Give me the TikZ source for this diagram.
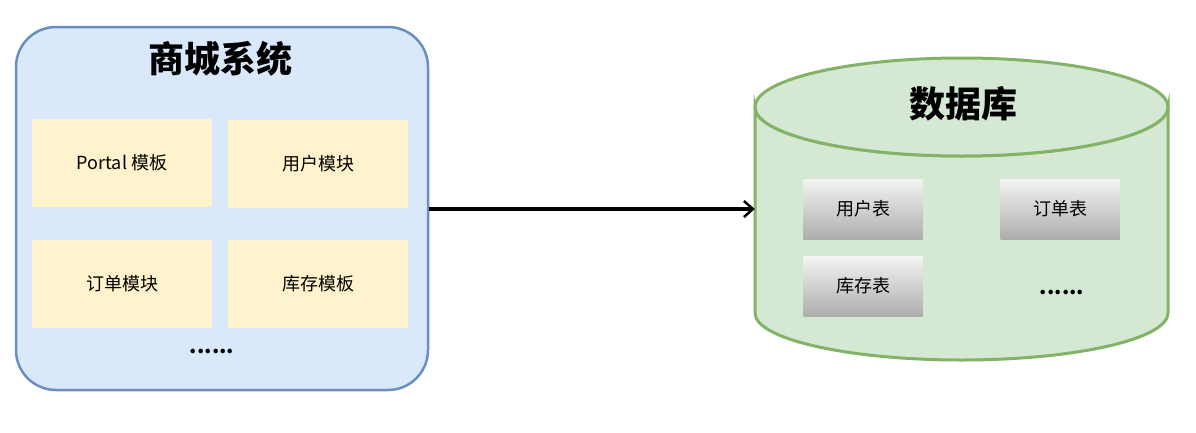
\documentclass[tikz,border=0pt]{standalone}
\usepackage{fontspec}
\setmainfont{Noto Sans CJK SC}
\usetikzlibrary{arrows.meta}
\definecolor{sysfill}{HTML}{DAE8FC}
\definecolor{sysline}{HTML}{6C8EBF}
\definecolor{modfill}{HTML}{FFF2CC}
\definecolor{dbfill}{HTML}{D5E8D4}
\definecolor{dbline}{HTML}{82B366}
\definecolor{tabtop}{HTML}{F4F4F4}
\definecolor{tabbot}{HTML}{ADADAD}
\tikzset{
  sysbox/.style={draw=sysline, fill=sysfill, line width=2.5pt, rounded corners=40pt},
  modbox/.style={fill=modfill, minimum width=180pt, minimum height=88pt, font=\fontsize{18}{21}\selectfont},
  tabbox/.style={top color=tabtop, bottom color=tabbot, minimum width=119pt, minimum height=60pt, font=\fontsize{18}{21}\selectfont},
  bigtitle/.style={font=\fontsize{36}{40}\selectfont\bfseries},
  dots/.style={font=\fontsize{21}{24}\selectfont\bfseries},
}
\begin{document}
\begin{tikzpicture}[x=1pt,y=-1pt]
\useasboundingbox (0,0) rectangle (1196,432);
% left system box
\node[sysbox, minimum width=412pt, minimum height=363pt] (sys) at (222,208.5) {};
\node[bigtitle] (systitle) at (220,59) {商城系统};
\node[modbox] (portal) at (122,163) {Portal 模板};
\node[modbox] (user) at (318,164) {用户模块};
\node[modbox] (order) at (122,284) {订单模块};
\node[modbox] (stock) at (318,284) {库存模板};
\node[dots] (sysdots) at (212,351) {......};
% database cylinder
\draw[draw=dbline, fill=dbfill, line width=3pt]
  (755,107) -- (755,313) arc[start angle=180, end angle=360, x radius=206.5pt, y radius=47pt]
  -- (1168,107) arc[start angle=0, end angle=-180, x radius=206.5pt, y radius=49pt] -- cycle;
\draw[draw=dbline, fill=dbfill, line width=3pt] (961.5,107) ellipse[x radius=206.5pt, y radius=49pt];
\node[minimum width=413pt, minimum height=200pt, inner sep=0pt] (db) at (961.5,210) {};
\node[bigtitle] (dbtitle) at (963,104) {数据库};
\node[tabbox] (tuser) at (863,209) {用户表};
\node[tabbox] (torder) at (1060,209) {订单表};
\node[tabbox] (tstock) at (863,286) {库存表};
\node[dots] (dbdots) at (1062,292) {......};
% connector
\draw[line width=3.5pt, -{Straight Barb[length=9pt,width=16pt,line width=2.5pt]}] (sys.east |- 0,209) -- (db.west |- 0,209);
\end{tikzpicture}
\end{document}
